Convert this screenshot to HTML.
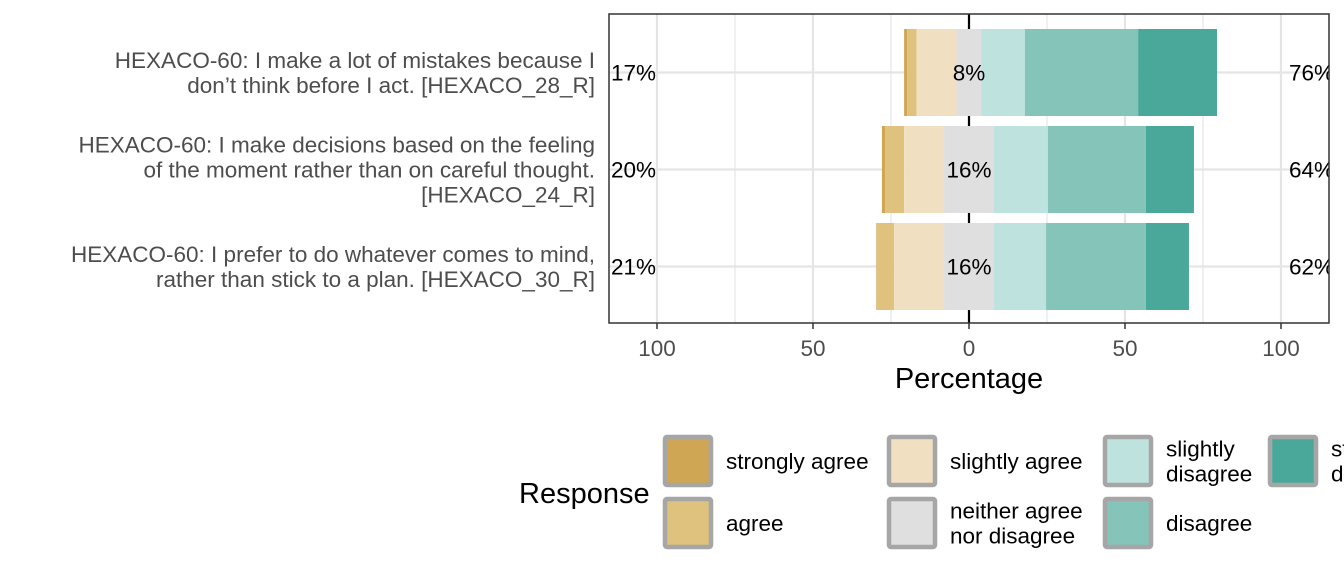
<!DOCTYPE html>
<html><head><meta charset="utf-8"><style>
html,body{margin:0;padding:0;background:#fff;}
svg{display:block;font-family:"Liberation Sans",sans-serif;}
</style></head><body>
<svg id="chart" width="1344" height="576" viewBox="0 0 1344 576">
<defs><clipPath id="pclip"><rect x="609" y="14" width="720" height="309"/></clipPath></defs>
<rect x="609" y="14" width="720" height="309" fill="#fff"/>
<g id="grid"></g>
<line x1="969" y1="14" x2="969" y2="323" stroke="#000" stroke-width="2.2"/>
<g id="bars" clip-path="url(#pclip)"></g>
<g id="labels" clip-path="url(#pclip)"></g>
<rect x="609" y="14" width="720" height="309" fill="none" stroke="#333" stroke-width="1.5"/>
<g id="yaxis"></g>
<g id="xaxis"></g>
<text x="969" y="388" font-size="29" text-anchor="middle" fill="#000">Percentage</text>
<g id="legend"></g>
</svg>
<script>
const items = [
 ["HEXACO-60: I make a lot of mistakes because I","don’t think before I act. [HEXACO_28_R]"],
 ["HEXACO-60: I make decisions based on the feeling","of the moment rather than on careful thought.","[HEXACO_24_R]"],
 ["HEXACO-60: I prefer to do whatever comes to mind,","rather than stick to a plan. [HEXACO_30_R]"]
];
const levels = ["strongly agree","agree","slightly agree","neither agree nor disagree","slightly disagree","disagree","strongly disagree"];
const stronglyAgree = [1, 1, 0.3];
const agree = [3, 6.1, 5.4];
const slightlyAgree = [12.8, 12.8, 16];
const neutral = [8, 16, 16];
const slightlyDisagree = [13.9, 17.3, 16.7];
const disagree = [36.3, 31.4, 32];
const stronglyDisagree = [25.3, 15.4, 13.8];
const leftLabels = ["17%","20%","21%"];
const centerLabels = ["8%","16%","16%"];
const rightLabels = ["76%","64%","62%"];
const xTicks = [-100,-50,0,50,100];
const xTickLabels = ["100","50","0","50","100"];
const minorTicks = [-75,-25,25,75];
const colors = ["#CFA654","#DFC27D","#F0E0C1","#DFDFDF","#BEE2DE","#85C4B9","#4AA89A"];

const NS="http://www.w3.org/2000/svg";
const x = v => 969 + v*3.12;
const y = i => 72.5 + i*97;
const BH = 87;
function mk(tag, attrs, parent){const e=document.createElementNS(NS,tag);for(const k in attrs)e.setAttribute(k,attrs[k]);parent.appendChild(e);return e;}
const grid=document.getElementById('grid'), bars=document.getElementById('bars'), labels=document.getElementById('labels');
minorTicks.forEach(t=>{const l=mk('line',{x1:x(t),x2:x(t),y1:14,y2:323,stroke:'#ebebeb','stroke-width':1.5},grid);

});
xTicks.forEach(t=>{const l=mk('line',{x1:x(t),x2:x(t),y1:14,y2:323,stroke:'#e5e5e5','stroke-width':2.2},grid);

});
items.forEach((it,i)=>{const l=mk('line',{x1:609,x2:1329,y1:y(i),y2:y(i),stroke:'#e5e5e5','stroke-width':2.2},grid);

});
const series=[stronglyAgree,agree,slightlyAgree,neutral,slightlyDisagree,disagree,stronglyDisagree];
items.forEach((it,i)=>{
  let left = -(stronglyAgree[i]+agree[i]+slightlyAgree[i]+neutral[i]/2);
  let pos = left;
  series.forEach((s,k)=>{
    const r=mk('rect',{x:x(pos),y:y(i)-BH/2,width:s[i]*3.12,height:BH,fill:colors[k]},bars);
    
    
    pos+=s[i];
  });
  const a=mk('text',{x:611,y:y(i)+8,'font-size':22.5,fill:'#000'},labels);a.textContent=leftLabels[i];
  
  
  const c=mk('text',{x:969,y:y(i)+8,'font-size':22.5,fill:'#000','text-anchor':'middle'},labels);c.textContent=centerLabels[i];
  
  
  const b=mk('text',{x:1289,y:y(i)+8,'font-size':22.5,fill:'#000'},labels);b.textContent=rightLabels[i];
  
  
  const g=document.getElementById('yaxis');
  const n=it.length, y0=y(i)-(n-1)*12.5+8;
  it.forEach((line,j)=>{const t=mk('text',{x:595,y:y0+j*25,'font-size':22.5,fill:'#4d4d4d','text-anchor':'end'},g);t.textContent=line;
  
  });
});
const xa=document.getElementById('xaxis');
xTicks.forEach((t,i)=>{const l=mk('line',{x1:x(t),x2:x(t),y1:323,y2:329,stroke:'#333','stroke-width':1.5},xa);


const tx=mk('text',{x:x(t),y:356,'font-size':22.5,fill:'#4d4d4d','text-anchor':'middle'},xa);tx.textContent=xTickLabels[i];

});
const lg=document.getElementById('legend');
const rt=mk('text',{x:519,y:503,'font-size':29,fill:'#000'},lg);rt.textContent='Response';


const cols=[663,887,1103,1268];
const legendText=[["strongly agree"],["agree"],["slightly agree"],["neither agree","nor disagree"],["slightly","disagree"],["disagree"],["strongly","disagree"]];
levels.forEach((lv,k)=>{
  const c=Math.floor(k/2), r=k%2;
  const bx=cols[c], by=r?497:435;
  const box=mk('rect',{x:bx+2,y:by+2,width:46,height:48,fill:colors[k],stroke:'#a6a6a6','stroke-width':4.5,rx:2},lg);
  
  
  const lines=legendText[k];
  const cy=by+26;
  lines.forEach((ln,j)=>{const t=mk('text',{x:bx+63,y:cy+8+(j-(lines.length-1)/2)*25,'font-size':22.5,fill:'#000'},lg);t.textContent=ln;
  
  });
});
</script>
</body></html>
